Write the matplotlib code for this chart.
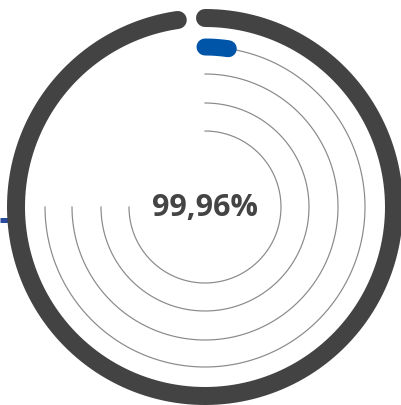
import numpy as np
import matplotlib
matplotlib.use("Agg")
import matplotlib.pyplot as plt

# values
label_text = "99,96%"
outer_value = 97.7          # percent of the full circle drawn by the thick ring
track_values = [3.1, 0, 0, 0]   # percent of the 270 deg track, outermost first
track_max_deg = 270

# layout in pixels
W, H = 402, 405
cx, cy = 205, 207
outer_r = 189
track_radii = [160, 133, 104, 76]
dark = "#434343"
blue = "#0055a8"
grey = "#8a8a8a"
px = 0.72  # pixels -> points at dpi 100


def arc_xy(r, start_deg, sweep_deg, n=400):
    # angles measured clockwise from 12 o'clock
    a = np.radians(np.linspace(start_deg, start_deg + sweep_deg, n))
    return cx + r * np.sin(a), cy - r * np.cos(a)


fig = plt.figure(figsize=(W / 100, H / 100), dpi=100)
ax = fig.add_axes([0, 0, 1, 1])
ax.set_xlim(0, W)
ax.set_ylim(H, 0)
ax.axis('off')

# thin blue line coming in from the left edge
ax.plot([0, cx - outer_r], [220, 220], color="#2a4a9e", lw=5 * px, zorder=1,
        solid_capstyle='butt')

# thick outer ring
x, y = arc_xy(outer_r, 0, 360 * outer_value / 100)
ax.plot(x, y, color=dark, lw=18 * px, solid_capstyle='round', zorder=3)

# thin tracks and their values
for r, v in zip(track_radii, track_values):
    x, y = arc_xy(r, 0, track_max_deg)
    ax.plot(x, y, color=grey, lw=1.2 * px, zorder=2)
    if v > 0:
        x, y = arc_xy(r, 0, track_max_deg * v / 100)
        ax.plot(x, y, color=blue, lw=17 * px, solid_capstyle='round', zorder=4)

ax.text(cx, cy + 1, label_text, ha='center', va='center', fontsize=22,
        fontweight='bold', family=['Open Sans', 'DejaVu Sans'], color="#444444")

fig.savefig("out.png", dpi=100)
